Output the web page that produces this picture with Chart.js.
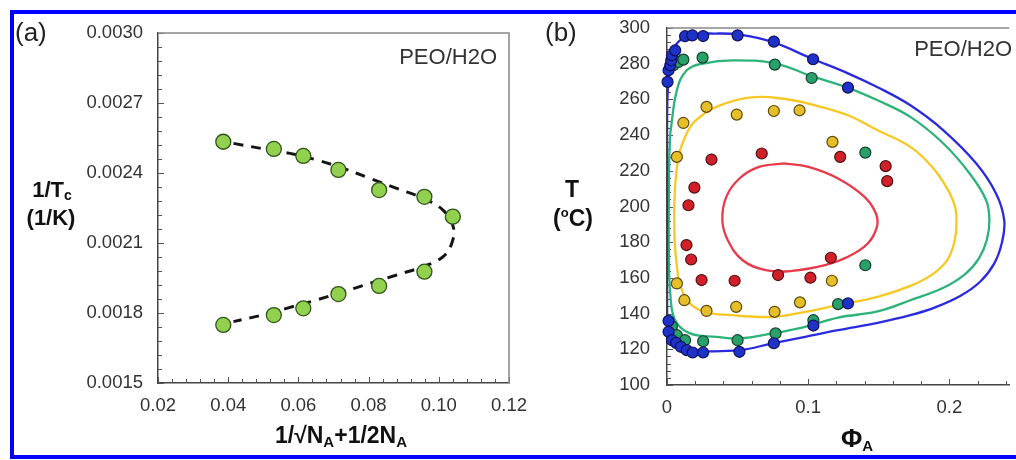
<!DOCTYPE html>
<html>
<head>
<meta charset="utf-8">
<script src="https://cdn.jsdelivr.net/npm/chart.js@4.4.1/dist/chart.umd.min.js"></script>
<style>
html, body { margin: 0; padding: 0; background: #fff; overflow: hidden; }
#wrap { position: relative; width: 1016px; height: 460px; overflow: hidden; }
#ca { position: absolute; left: 0; top: 0; }
#cb { position: absolute; left: 520px; top: 0; }
#frame { position: absolute; left: 10px; top: 10px; width: 1100px; height: 449px; box-sizing: border-box;
         border: 4px solid #0000ff; border-right: none; pointer-events: none; }
</style>
</head>
<body>
<div id="wrap">
  <canvas id="ca" width="540" height="460"></canvas>
  <canvas id="cb" width="496" height="460"></canvas>
  <div id="frame"></div>
</div>
<script>
// ---- panel (a): 1/Tc vs 1/sqrt(NA)+1/2NA
const aX = [0.0386, 0.0530, 0.0614, 0.0714, 0.0830, 0.0959, 0.1040, 0.0959, 0.0830, 0.0714, 0.0614, 0.0530, 0.0386];
const aY = [0.002534, 0.002503, 0.002473, 0.002413, 0.002327, 0.002298, 0.002213, 0.001977, 0.001916, 0.001881, 0.001820, 0.001791, 0.001749];
// dashed fit line
const aFitX = [0.0415, 0.0510, 0.0576, 0.0652, 0.0728, 0.0804, 0.0880, 0.0956, 0.1012, 0.1041, 0.1037, 0.1012, 0.0956, 0.0880, 0.0804, 0.0728, 0.0652, 0.0576, 0.0510, 0.0415];
const aFitY = [0.002527, 0.002501, 0.002484, 0.002456, 0.002420, 0.002377, 0.002334, 0.002291, 0.002241, 0.002170, 0.002099, 0.002041, 0.001999, 0.001963, 0.001927, 0.001891, 0.001856, 0.001824, 0.001796, 0.001763];
const aXTicks = [0.02, 0.04, 0.06, 0.08, 0.10, 0.12];
const aYTicks = [0.0015, 0.0018, 0.0021, 0.0024, 0.0027, 0.0030];

// ---- panel (b): T vs phiA, measured points
const blueX = [0.0004, 0.0011, 0.0023, 0.0030, 0.0035, 0.0058, 0.0128, 0.0179, 0.0256, 0.0500, 0.0757, 0.1035, 0.1282,
               0.0011, 0.0011, 0.0035, 0.0065, 0.0098, 0.0140, 0.0182, 0.0256, 0.0513, 0.0757, 0.1037, 0.1282];
const blueY = [269.8, 276.3, 279.1, 281.9, 284.7, 287.5, 295.4, 295.9, 295.5, 295.9, 292.4, 282.5, 266.6,
               135.9, 129.8, 125.1, 123.6, 121.4, 119.5, 118.2, 118.2, 118.6, 123.4, 133.3, 145.7];
const greenX = [0.0046, 0.0081, 0.0116, 0.0252, 0.0764, 0.1025, 0.1405, 0.0035, 0.0070, 0.0128, 0.0256, 0.0500, 0.0769, 0.1037, 0.1212, 0.1405];
const greenY = [279.1, 281.0, 282.3, 283.4, 279.5, 272.0, 230.2, 132.9, 127.9, 125.1, 124.5, 125.1, 128.9, 136.3, 145.3, 167.1];
const yellowX = [0.0070, 0.0116, 0.0280, 0.0494, 0.0757, 0.0939, 0.1172, 0.0070, 0.0123, 0.0280, 0.0490, 0.0762, 0.0942, 0.1168];
const yellowY = [227.8, 246.8, 255.8, 251.5, 253.5, 253.9, 236.2, 156.9, 147.5, 141.5, 143.8, 141.0, 146.3, 158.4];
const redX = [0.0315, 0.0671, 0.0194, 0.0152, 0.1227, 0.1549, 0.1560, 0.0138, 0.0171, 0.0245, 0.0479, 0.0787, 0.1016, 0.1161];
const redY = [226.3, 229.7, 210.6, 200.7, 227.8, 222.6, 214.2, 178.4, 170.3, 158.8, 158.4, 161.6, 160.1, 171.3];

// binodal curves, traced
const blueCX = [0.0001, 0.0004, 0.0023, 0.0070, 0.0163, 0.0350, 0.0513, 0.0746, 0.1025, 0.1282, 0.1492, 0.1724, 0.1958, 0.2191, 0.2331, 0.2389, 0.2372, 0.2318, 0.2220, 0.2080, 0.1900, 0.1724, 0.1492, 0.1212, 0.0979, 0.0746, 0.0513, 0.0233, 0.0093, 0.0023, 0.0004, 0.0001, 0.0000, 0.0000, 0.0001];
const blueCY = [250.0, 262.0, 281.9, 291.3, 295.9, 296.9, 296.3, 292.2, 282.9, 274.6, 266.8, 256.7, 242.7, 224.1, 207.3, 192.3, 179.5, 168.0, 158.0, 150.0, 143.5, 139.1, 134.8, 130.7, 127.0, 123.3, 119.5, 119.0, 120.5, 123.3, 128.0, 140.0, 170.0, 210.0, 250.0];
const greenCX = [0.0023, 0.0070, 0.0140, 0.0256, 0.0466, 0.0769, 0.1025, 0.1282, 0.1492, 0.1724, 0.1958, 0.2144, 0.2261, 0.2284, 0.2265, 0.2210, 0.2110, 0.1958, 0.1724, 0.1492, 0.1212, 0.0979, 0.0746, 0.0513, 0.0350, 0.0163, 0.0058, 0.0023, 0.0013, 0.0013, 0.0016, 0.0023];
const greenCY = [240.9, 265.1, 276.3, 280.1, 281.9, 280.1, 273.0, 266.5, 259.5, 250.2, 235.3, 218.5, 203.5, 192.3, 181.0, 171.0, 162.0, 154.5, 147.5, 141.2, 137.8, 132.6, 128.9, 126.1, 127.0, 128.9, 136.3, 151.3, 175.0, 203.5, 226.0, 240.9];
const yellowCX = [0.0058, 0.0085, 0.0140, 0.0200, 0.0350, 0.0583, 0.0815, 0.1049, 0.1282, 0.1492, 0.1724, 0.1880, 0.1985, 0.2040, 0.2051, 0.2035, 0.1985, 0.1880, 0.1724, 0.1492, 0.1212, 0.0979, 0.0746, 0.0466, 0.0233, 0.0116, 0.0065, 0.0051, 0.0058];
const yellowCY = [212.9, 229.0, 241.0, 248.0, 255.8, 261.0, 260.5, 256.7, 251.1, 242.7, 233.4, 222.0, 210.0, 200.0, 190.5, 180.0, 170.0, 162.0, 155.5, 149.4, 144.8, 141.0, 138.2, 139.1, 141.9, 151.3, 170.0, 194.2, 212.9];
const redCX = [0.0827, 0.1002, 0.1212, 0.1399, 0.1480, 0.1487, 0.1422, 0.1282, 0.1119, 0.0885, 0.0699, 0.0536, 0.0431, 0.0392, 0.0420, 0.0513, 0.0652, 0.0827];
const redCY = [224.1, 222.2, 215.7, 205.4, 196.1, 188.6, 179.3, 171.8, 167.1, 163.9, 164.3, 169.9, 181.1, 192.3, 205.4, 215.7, 222.2, 224.1];
const bXTicks = [0, 0.1, 0.2];
const bYTicks = [100, 120, 140, 160, 180, 200, 220, 240, 260, 280, 300];

const FONT = "'Liberation Sans', Arial, sans-serif";
const pts = (xs, ys) => xs.map((v, i) => ({ x: v, y: ys[i] }));

function drawRich(ctx, parts, x, y, align) {
  const fontOf = p => (p[2] ? 'bold ' : '') + p[1] + 'px ' + FONT;
  const ws = parts.map(p => { ctx.font = fontOf(p); return ctx.measureText(p[0]).width; });
  const w = ws.reduce((s, v) => s + v, 0);
  let cx = align === 'left' ? x : align === 'right' ? x - w : x - w / 2;
  ctx.textAlign = 'left';
  ctx.textBaseline = 'middle';
  parts.forEach((p, i) => {
    ctx.font = fontOf(p);
    ctx.fillStyle = p[4] || '#111';
    ctx.fillText(p[0], cx, y + (p[3] || 0));
    cx += ws[i];
  });
}

// inward tick marks, box lines and panel texts
const panelDeco = {
  id: 'panelDeco',
  beforeDatasetsDraw(chart, args, o) {
    const { ctx, chartArea: a, scales: { x, y } } = chart;
    ctx.save();
    ctx.strokeStyle = '#555';
    ctx.lineWidth = 1;
    const marks = (scale, step, major, horiz) => {
      const n = Math.round((scale.max - scale.min) / step + 1e-6);
      for (let i = 0; i <= n; i++) {
        const v = scale.min + i * step;
        const r = v / major;
        const len = Math.abs(r - Math.round(r)) < 1e-4 ? 6 : 4;
        const p = Math.round(scale.getPixelForValue(v)) + 0.5;
        ctx.beginPath();
        if (horiz) { ctx.moveTo(p, a.bottom); ctx.lineTo(p, a.bottom - len); }
        else { ctx.moveTo(a.left, p); ctx.lineTo(a.left + len, p); }
        ctx.stroke();
      }
    };
    marks(x, o.xMinor, o.xMajor, true);
    marks(y, o.yMinor, o.yMajor, false);
    ctx.strokeStyle = '#888';
    ctx.lineWidth = 1.5;
    ctx.beginPath();
    ctx.moveTo(a.left, a.top);
    ctx.lineTo(a.right, a.top);
    if (o.rightBorder) ctx.lineTo(a.right, a.bottom);
    ctx.stroke();
    ctx.restore();
  },
  afterDraw(chart, args, o) {
    const ctx = chart.ctx;
    ctx.save();
    o.texts.forEach(t => drawRich(ctx, t.parts, t.x, t.y, t.align));
    ctx.restore();
  }
};

const tickFont = { family: FONT, size: 18.5 };

function axisX(min, max, ticks, fmt, h) {
  return {
    type: 'linear', min, max,
    afterBuildTicks: s => { s.ticks = ticks.map(v => ({ value: v })); },
    afterFit: s => { s.height = h; s.paddingLeft = 0; s.paddingRight = 0; },
    grid: { display: false, drawTicks: false },
    border: { color: '#444', width: 1.5 },
    ticks: { font: tickFont, color: '#333', padding: 12, maxRotation: 0, autoSkip: false, callback: fmt }
  };
}
function axisY(min, max, ticks, fmt, w, pad) {
  return {
    type: 'linear', min, max,
    afterBuildTicks: s => { s.ticks = ticks.map(v => ({ value: v })); },
    afterFit: s => { s.width = w; s.paddingTop = 0; s.paddingBottom = 0; },
    grid: { display: false, drawTicks: false },
    border: { color: '#444', width: 1.5 },
    ticks: { font: tickFont, color: '#333', padding: pad, autoSkip: false, callback: fmt }
  };
}

new Chart(document.getElementById('ca'), {
  type: 'scatter',
  data: {
    datasets: [
      { data: pts(aX, aY), pointRadius: 7.5, pointBackgroundColor: '#92d050', pointBorderColor: '#2f5418',
        pointBorderWidth: 1.3, clip: false },
      { data: pts(aFitX, aFitY), showLine: true, borderColor: '#151515', borderWidth: 3, borderDash: [10, 8],
        pointRadius: 0, tension: 0.4, fill: false }
    ]
  },
  options: {
    responsive: false, animation: false, devicePixelRatio: 1,
    layout: { padding: { left: 0, right: 31, top: 33, bottom: 0 } },
    plugins: {
      legend: { display: false }, tooltip: { enabled: false },
      panelDeco: {
        xMinor: 0.004, xMajor: 0.02, yMinor: 0.00006, yMajor: 0.0003, rightBorder: true,
        texts: [
          { parts: [['(a)', 26, false, 0, '#222']], x: 15, y: 34, align: 'left' },
          { parts: [['PEO/H2O', 22, false, 0, '#333']], x: 497, y: 58, align: 'right' },
          { parts: [['1/T', 22, true], ['c', 14, true, 5]], x: 52, y: 191, align: 'center' },
          { parts: [['(1/K)', 22, true]], x: 51, y: 219, align: 'center' },
          { parts: [['1/\u221AN', 23, true], ['A', 15, true, 6], ['+1/2N', 23, true], ['A', 15, true, 6]], x: 341, y: 437, align: 'center' }
        ]
      }
    },
    scales: {
      x: axisX(0.02, 0.12, aXTicks, v => v.toFixed(2), 77),
      y: axisY(0.0015, 0.0030, aYTicks, v => v.toFixed(4), 158, 15)
    }
  },
  plugins: [panelDeco]
});

const dot = (xs, ys, fill, edge) => ({
  data: pts(xs, ys), pointRadius: 5.5, pointBackgroundColor: fill, pointBorderColor: edge, pointBorderWidth: 1.2, clip: false
});
const curve = (xs, ys, col) => ({
  data: pts(xs, ys), showLine: true, borderColor: col, borderWidth: 2.3, pointRadius: 0, tension: 0.4, fill: false
});

new Chart(document.getElementById('cb'), {
  type: 'scatter',
  data: {
    datasets: [
      dot(blueX, blueY, '#1e32c8', '#10105a'),
      dot(greenX, greenY, '#27a06a', '#12402a'),
      dot(yellowX, yellowY, '#e6be28', '#5a4a10'),
      dot(redX, redY, '#d2202a', '#501010'),
      curve(blueCX, blueCY, '#2a2ae0'),
      curve(greenCX, greenCY, '#2db37a'),
      curve(yellowCX, yellowCY, '#f7c823'),
      curve(redCX, redCY, '#e83a4a')
    ]
  },
  options: {
    responsive: false, animation: false, devicePixelRatio: 1,
    layout: { padding: { left: 0, right: 3, top: 28, bottom: 0 } },
    plugins: {
      legend: { display: false }, tooltip: { enabled: false },
      panelDeco: {
        xMinor: 0.02, xMajor: 0.1, yMinor: 4, yMajor: 20, rightBorder: false,
        texts: [
          { parts: [['(b)', 26, false, 0, '#222']], x: 25, y: 34, align: 'left' },
          { parts: [['PEO/H2O', 22, false, 0, '#333']], x: 492, y: 50, align: 'right' },
          { parts: [['T', 23, true]], x: 52, y: 191, align: 'center' },
          { parts: [['(', 23, true], ['o', 13, true, -7], ['C)', 23, true]], x: 53, y: 220, align: 'center' },
          { parts: [['\u03A6', 26, true], ['A', 15, true, 7]], x: 337, y: 440, align: 'center' }
        ]
      }
    },
    scales: {
      x: axisX(0, 0.2425, bXTicks, v => (v === 0 ? '0' : v.toFixed(1)), 75),
      y: axisY(100, 300, bYTicks, v => String(v), 147, 17)
    }
  },
  plugins: [panelDeco]
});
</script>
</body>
</html>
